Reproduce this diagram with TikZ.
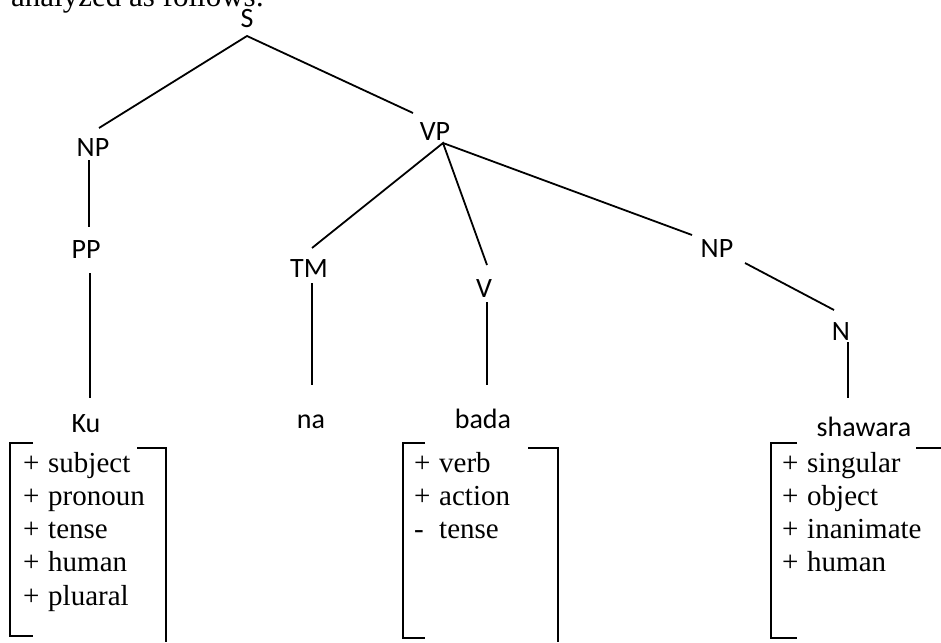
\documentclass[tikz,border=0pt]{standalone}
\usepackage{fontspec}
\setmainfont{Liberation Serif}
\newfontfamily\labelfont{Carlito}
\begin{document}
\begin{tikzpicture}[x=1pt,y=-1pt,
  cat/.style={font=\labelfont\fontsize{28}{30}\selectfont, inner sep=0pt, anchor=base},
  feat/.style={font=\fontsize{29}{33}\selectfont, inner sep=0pt, anchor=base west},
  edge/.style={line width=1.8pt},
  brk/.style={line width=1.8pt}]
\useasboundingbox (0,0) rectangle (941,642);
\clip (0,0) rectangle (941,642);

% running text above the tree
\node[font=\fontsize{31}{33}\selectfont, inner sep=0pt, anchor=base west] (intro) at (11,7) {analyzed as follows:};

% category labels
\node[cat] (S)   at (247,28)  {S};
\node[cat] (NPa) at (93,156)  {NP};
\node[cat] (VP)  at (435,140) {VP};
\node[cat] (PP)  at (86,258)  {PP};
\node[cat] (TM)  at (309,277) {TM};
\node[cat] (V)   at (484,297) {V};
\node[cat] (NPb) at (717,257) {NP};
\node[cat] (N)   at (841,340) {N};

% words
\node[cat] (ku)   at (86,432)  {Ku};
\node[cat] (na)   at (311,428) {na};
\node[cat] (bada) at (483,428) {bada};
\node[cat] (shaw) at (864,436) {shawara};

% end points of the branches
\coordinate (S-b)   at (247,36);
\coordinate (VP-t)  at (413,113);
\coordinate (VP-b)  at (443,143);
\coordinate (NPa-t) at (99,128);
\coordinate (NPa-b) at (89,160);
\coordinate (PP-t)  at (89,227);
\coordinate (PP-b)  at (90,273);
\coordinate (ku-t)  at (90,398);
\coordinate (TM-t)  at (312,248);
\coordinate (TM-b)  at (312,283);
\coordinate (na-t)  at (312,385);
\coordinate (V-t)   at (487,265);
\coordinate (V-b)   at (487,302);
\coordinate (bada-t) at (487,385);
\coordinate (NPb-t) at (692,235);
\coordinate (NPb-b) at (745,263);
\coordinate (N-t)   at (834,310);
\coordinate (N-b)   at (848,342);
\coordinate (shaw-t) at (848,398);

% branches
\draw[edge] (NPa-t) -- (S-b) -- (VP-t);
\draw[edge] (NPa-b) -- (PP-t);
\draw[edge] (PP-b) -- (ku-t);
\draw[edge] (TM-t) -- (VP-b) -- (V-t);
\draw[edge] (VP-b) -- (NPb-t);
\draw[edge] (TM-b) -- (na-t);
\draw[edge] (V-b) -- (bada-t);
\draw[edge] (NPb-b) -- (N-t);
\draw[edge] (N-b) -- (shaw-t);

% feature brackets
\draw[brk] (33,443) -- (10,443) -- (10,636) -- (33,636);
\draw[brk] (137,448) -- (166,448) -- (166,642);
\draw[brk] (425,443) -- (403,443) -- (403,638) -- (425,638);
\draw[brk] (528,448) -- (558,448) -- (558,642);
\draw[brk] (797,443) -- (771,443) -- (771,638) -- (797,638);
\draw[brk] (916,448) -- (941,448);

% feature lists
\foreach \w [count=\i] in {subject,pronoun,tense,human,pluaral}
  \node[feat, name=kuf\i] at (23,{472+33.3*(\i-1)}) {\makebox[25pt][l]{+}\w};
\foreach \s/\w [count=\i] in {+/verb,+/action,-/tense}
  \node[feat, name=badaf\i] at (414,{472+33.3*(\i-1)}) {\makebox[25pt][l]{\s}\w};
\foreach \w [count=\i] in {singular,object,inanimate,human}
  \node[feat, name=shawf\i] at (782,{472+33.3*(\i-1)}) {\makebox[25pt][l]{+}\w};
\end{tikzpicture}
\end{document}
